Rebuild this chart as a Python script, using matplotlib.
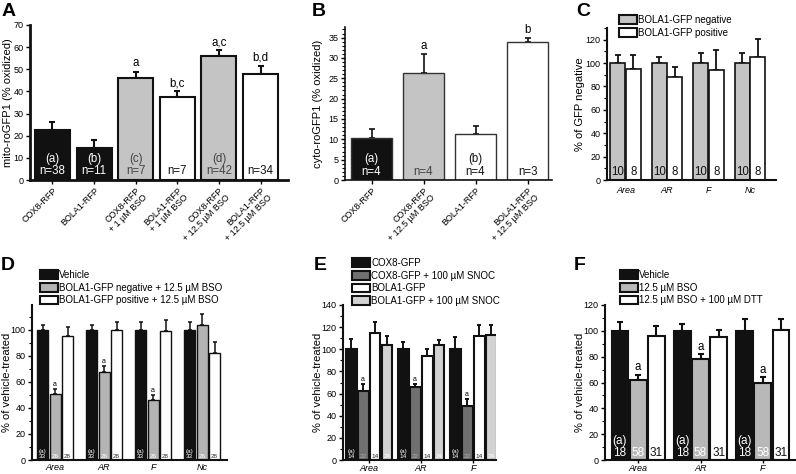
import numpy as np
import matplotlib
matplotlib.use("Agg")
import matplotlib.pyplot as plt
from matplotlib.patches import Patch
from matplotlib.ticker import MultipleLocator

plt.rcParams['font.family'] = ['Liberation Sans', 'DejaVu Sans']

W, H = 796, 474

# ---------------- data ----------------
a_labels = ["COX8-RFP", "BOLA1-RFP", "COX8-RFP\n+ 1 µM BSO", "BOLA1-RFP\n+ 1 µM BSO",
            "COX8-RFP\n+ 12.5 µM BSO", "BOLA1-RFP\n+ 12.5 µM BSO"]
a_values = [22.5, 14.5, 46.0, 37.5, 56.0, 48.0]
a_errors = [3.5, 3.5, 3.0, 2.5, 2.5, 3.5]
a_colors = ["#111111", "#111111", "#c4c4c4", "#ffffff", "#c4c4c4", "#ffffff"]
a_inner = ["(a)\nn=38", "(b)\nn=11", "(c)\nn=7", "n=7", "(d)\nn=42", "n=34"]
a_sig = ["", "", "a", "b,c", "a,c", "b,d"]

b_labels = ["COX8-RFP", "COX8-RFP\n+ 12.5 µM BSO", "BOLA1-RFP", "BOLA1-RFP\n+ 12.5 µM BSO"]
b_values = [10.2, 26.2, 11.4, 34.0]
b_errors = [2.4, 4.8, 1.8, 1.0]
b_colors = ["#111111", "#c4c4c4", "#ffffff", "#ffffff"]
b_inner = ["(a)\nn=4", "n=4", "(b)\nn=4", "n=3"]
b_sig = ["", "a", "", "b"]

c_groups = ["Area", "AR", "F", "Nc"]
c_series = ["BOLA1-GFP negative", "BOLA1-GFP positive"]
c_neg = [100, 100, 100, 100]
c_neg_err = [7, 5, 9, 9]
c_pos = [95, 88, 94, 105]
c_pos_err = [12, 9, 17, 16]
c_n = ["10", "8"]

d_groups = ["Area", "AR", "F", "Nc"]
d_series = ["Vehicle", "BOLA1-GFP negative + 12.5 µM BSO", "BOLA1-GFP positive + 12.5 µM BSO"]
d_vehicle = [100, 100, 100, 100]
d_vehicle_err = [4, 4, 6.5, 6]
d_neg = [50.5, 67.5, 46, 103.5]
d_neg_err = [4, 4.5, 4, 8.5]
d_pos = [95, 100, 99.5, 82]
d_pos_err = [7, 6, 8, 9]
d_n = ["(a)\n33", "26", "28"]
d_sig = ["a", "a", "a", ""]

e_groups = ["Area", "AR", "F"]
e_series = ["COX8-GFP", "COX8-GFP + 100 µM SNOC", "BOLA1-GFP", "BOLA1-GFP + 100 µM SNOC"]
e_cox = [100, 100, 100]
e_cox_err = [9, 7, 11]
e_cox_snoc = [62, 65.5, 48.5]
e_cox_snoc_err = [7, 3.5, 7]
e_bola = [115, 94, 112]
e_bola_err = [10, 6, 10]
e_bola_snoc = [104, 103.5, 112.5]
e_bola_snoc_err = [8, 4.5, 9.5]
e_n = ["(a)\n14", "22", "14", "24"]

f_groups = ["Area", "AR", "F"]
f_series = ["Vehicle", "12.5 µM BSO", "12.5 µM BSO + 100 µM DTT"]
f_vehicle = [100, 100, 100]
f_vehicle_err = [7, 5, 9.5]
f_bso = [62, 78, 60]
f_bso_err = [4, 4, 4]
f_dtt = [96, 95.5, 100.5]
f_dtt_err = [8, 5.5, 9]
f_n = ["(a)\n18", "58", "31"]

# ---------------- helpers ----------------
fig = plt.figure(figsize=(W / 100, H / 100), dpi=100)


def ax_at(x0, x1, yb, yt):
    a = fig.add_axes([x0 / W, 1 - yb / H, (x1 - x0) / W, (yb - yt) / H])
    a._px = (x0, x1)
    return a


def ylabel_at(ax, text, xpx, size=8):
    ax.set_ylabel(text, fontsize=size)
    x0, x1 = ax._px
    ax.yaxis.set_label_coords((xpx - x0) / (x1 - x0), 0.5)
    ax.yaxis.label.set_va("center")


def style(ax, lw=1.5):
    for s in ["top", "right"]:
        ax.spines[s].set_visible(False)
    for s in ["left", "bottom"]:
        ax.spines[s].set_linewidth(lw)
        ax.spines[s].set_color("#111111")
    ax.tick_params(axis="both", direction="out", length=3, width=1, labelsize=6.5, pad=1.5)
    ax.tick_params(axis="y", which="minor", length=2, width=0.8)


def upper_err(ax, x, v, e, lw=1.5, cap=2):
    ax.errorbar(x, v, yerr=[np.zeros(len(v)), e], fmt="none", ecolor="#111111",
                elinewidth=lw, capsize=cap, capthick=lw, zorder=1)


def letter(x, y, t):
    fig.text(x / W, 1 - y / H, t, fontsize=14, fontweight="bold", ha="left", va="center")


def txtcolor(c):
    return {"#111111": "white", "#ffffff": "#111111"}.get(c, "#444444")


def legend(ax, cols, labels, xpx, ypx):
    ax.legend(handles=[Patch(facecolor=c, edgecolor="#111111", linewidth=1.5, label=l)
                       for c, l in zip(cols, labels)],
              loc="upper left", bbox_to_anchor=(xpx / W, 1 - ypx / H), bbox_transform=fig.transFigure,
              frameon=False, fontsize=7, handlelength=1.8, handleheight=1.0, handletextpad=0.2,
              labelspacing=0.27, borderpad=0, borderaxespad=0)


# ---------------- Panel A ----------------
ax = ax_at(30, 288, 180, 25)
xa = np.arange(len(a_values))
ax.bar(xa, a_values, width=0.84, color=a_colors, edgecolor="#111111", linewidth=1.5, zorder=2)
upper_err(ax, xa, a_values, a_errors)
ax.set_xlim(-0.54, 5.66)
ax.set_ylim(0, 70)
ax.yaxis.set_major_locator(MultipleLocator(10))
ax.set_xticks(xa)
ax.set_xticklabels(a_labels, rotation=45, ha="right", rotation_mode="anchor", fontsize=7,
                   linespacing=1.0)
style(ax, 2)
ylabel_at(ax, "mito-roGFP1 (% oxidized)", 8)
for i in range(len(a_values)):
    ax.text(xa[i], 1.2, a_inner[i], ha="center", va="bottom", fontsize=8.3,
            color=txtcolor(a_colors[i]), linespacing=1.05, zorder=3)
    if a_sig[i]:
        ax.text(xa[i], a_values[i] + a_errors[i] + 1, a_sig[i], ha="center", va="bottom", fontsize=8.3)
letter(2, 12, "A")

# ---------------- Panel B ----------------
ax = ax_at(345, 552, 180, 27)
xb = np.arange(len(b_values))
ax.bar(xb, b_values, width=0.79, color=b_colors, edgecolor="#333333", linewidth=1.0, zorder=2)
upper_err(ax, xb, b_values, b_errors, lw=1.2)
ax.set_xlim(-0.51, 3.47)
ax.set_ylim(0, 37.6)
ax.yaxis.set_major_locator(MultipleLocator(5))
ax.yaxis.set_minor_locator(MultipleLocator(1))
ax.set_xticks(xb)
ax.set_xticklabels(b_labels, rotation=45, ha="right", rotation_mode="anchor", fontsize=7,
                   linespacing=1.0)
style(ax, 1.2)
ylabel_at(ax, "cyto-roGFP1 (% oxidized)", 318)
for i in range(len(b_values)):
    ax.text(xb[i], 0.6, b_inner[i], ha="center", va="bottom", fontsize=8.3,
            color=txtcolor(b_colors[i]), linespacing=1.05, zorder=3)
    if b_sig[i]:
        ax.text(xb[i], b_values[i] + b_errors[i] + 0.5, b_sig[i], ha="center", va="bottom", fontsize=8.3)
letter(312, 12, "B")


# ---------------- grouped helper ----------------
def grouped(ax, series, errs, colors, pitch, width, lw, ecap=2, elw=1.3):
    n = len(series)
    xg = np.arange(len(series[0]))
    pos = []
    for k in range(n):
        xk = xg + (k - (n - 1) / 2) * pitch
        ax.bar(xk, series[k], width=width, color=colors[k], edgecolor="#111111", linewidth=lw, zorder=2)
        upper_err(ax, xk, series[k], errs[k], lw=elw, cap=ecap)
        pos.append(xk)
    return xg, pos


# ---------------- Panel C ----------------
ax = ax_at(607, 776, 180, 28)
c_cols = ["#c4c4c4", "#ffffff"]
xg, pos = grouped(ax, [c_neg, c_pos], [c_neg_err, c_pos_err], c_cols, 0.375, 0.36, 1.2)
ax.set_xlim(-0.45, 3.63)
ax.set_ylim(0, 130)
ax.yaxis.set_major_locator(MultipleLocator(20))
ax.yaxis.set_minor_locator(MultipleLocator(10))
ax.set_xticks(xg)
ax.set_xticklabels(c_groups, fontstyle="italic", fontsize=6.5)
style(ax, 1.5)
ax.tick_params(axis="x", length=0, pad=4)
ylabel_at(ax, "% of GFP negative", 580)
for k in range(2):
    for x in pos[k]:
        ax.text(x, 1.5, c_n[k], ha="center", va="bottom", fontsize=8.3, color="#111111", zorder=3)
legend(ax, c_cols, c_series, 619, 15)
letter(576, 12, "C")

# ---------------- Panel D ----------------
ax = ax_at(32, 227, 460, 305)
d_cols = ["#111111", "#b4b4b4", "#ffffff"]
xg, pos = grouped(ax, [d_vehicle, d_neg, d_pos], [d_vehicle_err, d_neg_err, d_pos_err],
                  d_cols, 0.255, 0.225, 1.0, ecap=1.5, elw=1.1)
ax.set_xlim(-0.47, 3.51)
ax.set_ylim(0, 119.2)
ax.yaxis.set_major_locator(MultipleLocator(20))
ax.yaxis.set_minor_locator(MultipleLocator(10))
ax.set_xticks(xg)
ax.set_xticklabels(d_groups, fontstyle="italic", fontsize=6.5)
style(ax, 1.5)
ax.tick_params(axis="x", length=0, pad=2)
ylabel_at(ax, "% of vehicle-treated", 7)
for k in range(3):
    for x in pos[k]:
        ax.text(x, 1.0, d_n[k], ha="center", va="bottom", fontsize=4.6,
                color={0: "white", 1: "white", 2: "#333333"}[k], linespacing=1.0, zorder=3)
for i, s in enumerate(d_sig):
    if s:
        ax.text(pos[1][i], d_neg[i] + d_neg_err[i] + 0.8, s, ha="center", va="bottom", fontsize=5)
legend(ax, d_cols, d_series, 40, 270)
letter(1, 265, "D")

# ---------------- Panel E ----------------
ax = ax_at(343, 496, 460, 305)
e_cols = ["#111111", "#707070", "#ffffff", "#d2d2d2"]
xg, pos = grouped(ax, [e_cox, e_cox_snoc, e_bola, e_bola_snoc],
                  [e_cox_err, e_cox_snoc_err, e_bola_err, e_bola_snoc_err],
                  e_cols, 0.23, 0.21, 1.5, ecap=1.5, elw=1.4)
ax.set_xlim(-0.5, 2.44)
ax.set_ylim(0, 140)
ax.yaxis.set_major_locator(MultipleLocator(20))
ax.yaxis.set_minor_locator(MultipleLocator(10))
ax.set_xticks(xg)
ax.set_xticklabels(e_groups, fontstyle="italic", fontsize=6.5)
style(ax, 1.5)
ax.tick_params(axis="x", length=2, pad=1)
ylabel_at(ax, "% of vehicle-treated", 318)
for k in range(4):
    for x in pos[k]:
        ax.text(x, 1.0, e_n[k], ha="center", va="bottom", fontsize=4.6,
                color={0: "white", 1: "#aaaaaa", 2: "#222222", 3: "white"}[k], linespacing=1.0, zorder=3)
for i in range(3):
    ax.text(pos[1][i], e_cox_snoc[i] + e_cox_snoc_err[i] + 0.8, "a", ha="center", va="bottom", fontsize=5)
legend(ax, e_cols, e_series, 352, 258)
letter(314, 265, "E")

# ---------------- Panel F ----------------
ax = ax_at(605, 796, 460, 305)
f_cols = ["#111111", "#b8b8b8", "#ffffff"]
xg, pos = grouped(ax, [f_vehicle, f_bso, f_dtt], [f_vehicle_err, f_bso_err, f_dtt_err],
                  f_cols, 0.29, 0.27, 1.5, ecap=2, elw=1.5)
ax.set_xlim(-0.53, 2.53)
ax.set_ylim(0, 120)
ax.yaxis.set_major_locator(MultipleLocator(20))
ax.yaxis.set_minor_locator(MultipleLocator(10))
ax.set_xticks(xg)
ax.set_xticklabels(f_groups, fontstyle="italic", fontsize=6.5)
style(ax, 1.5)
ax.tick_params(axis="x", length=2, pad=1)
ylabel_at(ax, "% of vehicle-treated", 580)
for k in range(3):
    for x in pos[k]:
        ax.text(x, 0.8, f_n[k], ha="center", va="bottom", fontsize=8.5,
                color={0: "white", 1: "white", 2: "#111111"}[k], linespacing=1.0, zorder=3)
for i in range(3):
    ax.text(pos[1][i], f_bso[i] + f_bso_err[i] + 1, "a", ha="center", va="bottom", fontsize=8.3)
legend(ax, f_cols, f_series, 620, 270)
letter(574, 265, "F")

fig.savefig("out.png", dpi=100)
